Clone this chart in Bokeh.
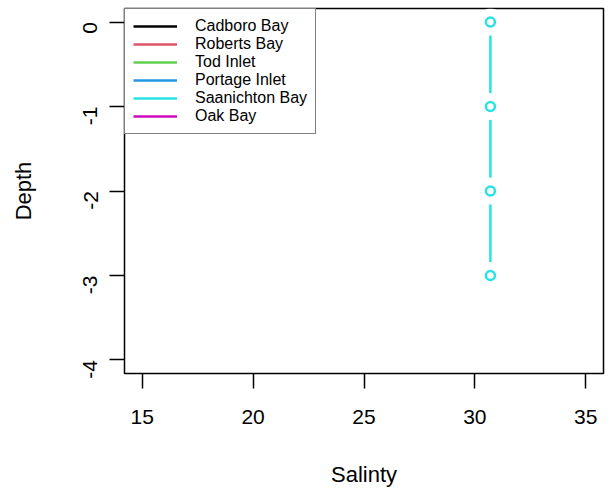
import math
from bokeh.plotting import figure
from bokeh.models import Range1d, FixedTicker, Legend, LegendItem, ColumnDataSource
from bokeh.embed import file_html
from bokeh.resources import INLINE

# ---- data ----
sites = ["Cadboro Bay", "Roberts Bay", "Tod Inlet", "Portage Inlet", "Saanichton Bay", "Oak Bay"]
site_colors = ["#000000", "#DF536B", "#61D04F", "#2297E6", "#28E2E5", "#CD0BBC"]

nan = float("nan")
cadboro_salinity, cadboro_depth = [nan], [nan]
roberts_salinity, roberts_depth = [nan], [nan]
tod_salinity, tod_depth = [nan], [nan]
portage_salinity, portage_depth = [nan], [nan]
saanichton_salinity = [30.7, 30.7, 30.7, 30.7]
saanichton_depth = [0, -1, -2, -3]
oak_salinity, oak_depth = [nan], [nan]

salinity_series = [cadboro_salinity, roberts_salinity, tod_salinity, portage_salinity, saanichton_salinity, oak_salinity]
depth_series = [cadboro_depth, roberts_depth, tod_depth, portage_depth, saanichton_depth, oak_depth]

x_ticks = [15, 20, 25, 30, 35]
y_ticks = [0, -1, -2, -3, -4]
y_tick_labels = ["0", "-1", "-2", "-3", "-4"]

FONT = "Liberation Sans"

p = figure(width=611, height=491, title=None,
           x_range=Range1d(14.2, 35.8), y_range=Range1d(-4.16, 0.16),
           toolbar_location=None, output_backend="svg",
           min_border_left=124, min_border_right=8, min_border_top=8, min_border_bottom=118)

p.grid.visible = False
p.outline_line_color = "#000000"
p.outline_line_width = 1.5
p.background_fill_color = "white"
p.border_fill_color = "white"

p.xaxis.ticker = FixedTicker(ticks=x_ticks)
p.yaxis.ticker = FixedTicker(ticks=y_ticks)
p.yaxis.major_label_overrides = {t: s for t, s in zip(y_ticks, y_tick_labels)}
for ax in (p.xaxis, p.yaxis):
    ax.axis_line_color = None
    ax.major_tick_in = 0
    ax.major_tick_out = 15
    ax.major_tick_line_width = 1.5
    ax.major_tick_line_color = "#000000"
    ax.minor_tick_line_color = None
    ax.major_label_text_font = FONT
    ax.major_label_text_font_size = "21px"
    ax.major_label_text_color = "#000000"
    ax.axis_label_text_font = FONT
    ax.axis_label_text_font_size = "22px"
    ax.axis_label_text_font_style = "normal"
    ax.axis_label_text_color = "#000000"

p.xaxis.axis_label = "Salinty"
p.yaxis.axis_label = "Depth"
p.xaxis.major_label_standoff = 21
p.xaxis.axis_label_standoff = 35
p.yaxis.major_label_standoff = 19
p.yaxis.axis_label_standoff = 38
p.yaxis.major_label_orientation = math.pi / 2

items = []
for name, col, xs, ys in zip(sites, site_colors, salinity_series, depth_series):
    src = ColumnDataSource(dict(x=xs, y=ys))
    ln = p.line("x", "y", source=src, line_color=col, line_width=2.5)
    # gaps around points as in R type="b"
    p.scatter("x", "y", source=src, size=27, fill_color="white", line_color=None)
    p.scatter("x", "y", source=src, size=9, fill_color=None, line_color=col, line_width=2.5)
    items.append(LegendItem(label=name, renderers=[ln]))

legend = Legend(items=items, location="top_left", margin=0, padding=8, spacing=0,
                label_height=18, glyph_height=18, glyph_width=44, label_standoff=18,
                label_text_font=FONT, label_text_font_size="16px",
                label_text_color="#000000",
                border_line_color="#000000", border_line_width=1.5,
                background_fill_color="white", background_fill_alpha=1.0)
p.add_layout(legend)

open("out.html", "w").write(file_html(p, INLINE))
